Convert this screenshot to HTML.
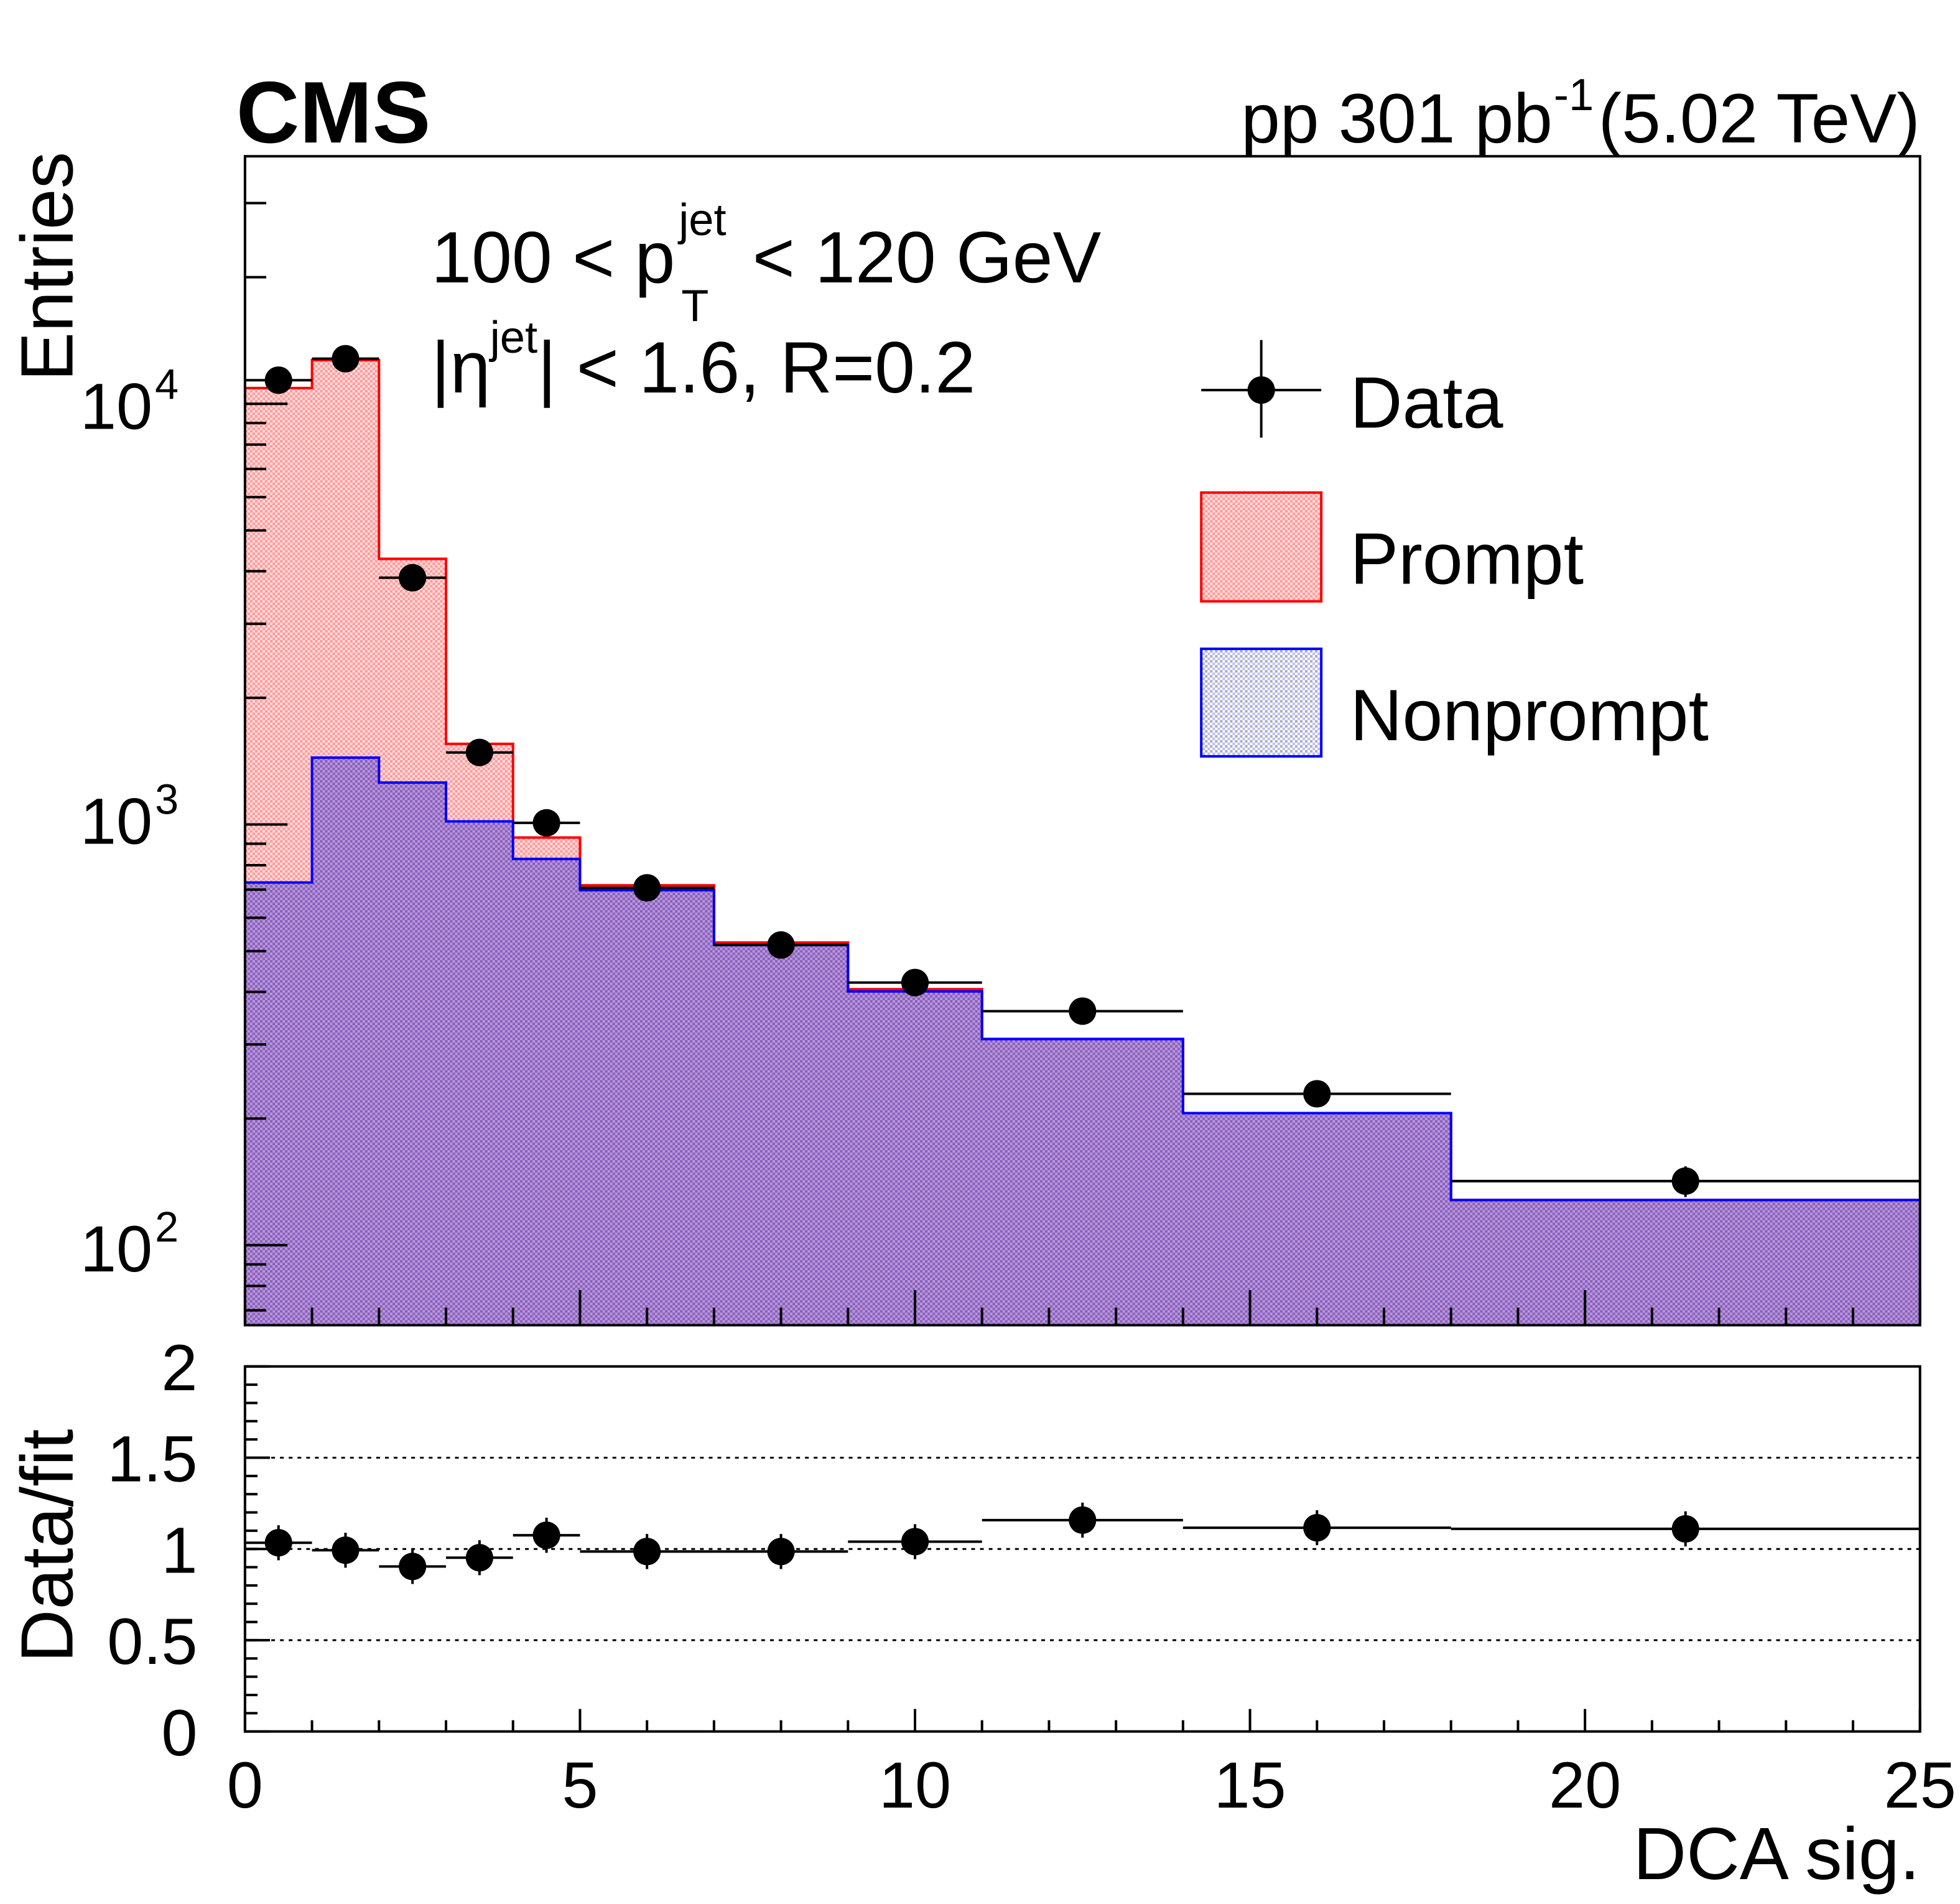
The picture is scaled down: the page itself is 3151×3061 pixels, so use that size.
<!DOCTYPE html>
<html><head><meta charset="utf-8"><style>html,body{margin:0;padding:0;background:#fff}svg{display:block}text{font-family:"Liberation Sans",sans-serif}</style></head>
<body>
<svg id="c" width="3151" height="3061" viewBox="0 0 1568 1523" preserveAspectRatio="none">
<defs>
<pattern id="pr" width="4" height="4" patternUnits="userSpaceOnUse"><rect width="4" height="4" fill="#fdd"/><rect width="2" height="2" fill="#f99"/><rect x="2" y="2" width="2" height="2" fill="#f99"/></pattern>
<pattern id="np" width="4" height="4" patternUnits="userSpaceOnUse"><rect width="4" height="4" fill="#b79bd6"/><rect width="2" height="2" fill="#8a5cc0"/><rect x="2" y="2" width="2" height="2" fill="#8a5cc0"/></pattern>
<pattern id="npl" width="4" height="4" patternUnits="userSpaceOnUse"><rect width="4" height="4" fill="#fff"/><rect width="2" height="2" fill="#aab"/><rect x="2" y="2" width="2" height="2" fill="#bbf"/></pattern>
</defs>
<g id="g"></g>
</svg>
<script>
const binEdges=[0,1,2,3,4,5,7,9,11,14,18,25];
const totalFit=[10900,12700,4280,1555,931,717,524,406,309,206,128];
const nonprompt=[728,1442,1258,1017,828,698,517,401,309,206,128];
const dataVals=[11380,12800,3860,1483,1009,707,517,421,360,229,142];
const ratioVals=[1.034,0.993,0.904,0.952,1.075,0.986,0.986,1.04,1.158,1.116,1.11];
const xTicks=[0,5,10,15,20,25];
const ratioTicks=[0,0.5,1,1.5,2];
const ratioTickLabels=["0","0.5","1","1.5","2"];

const X0=196,X1=1536,T=125,B=1060,RT=1093,RB=1385;
const xs=v=>X0+(v-0)*(X1-X0)/25;
const ys=v=>323-(Math.log10(v)-4)*336.5;
const yr=v=>RB-v*(RB-RT)/2;
const g=document.getElementById('g');
const NS='http://www.w3.org/2000/svg';
function el(tag,attrs,name,parent){const e=document.createElementNS(NS,tag);for(const k in attrs)e.setAttribute(k,attrs[k]);


(parent||g).appendChild(e);return e;}
function txt(x,y,s,size,anchor,name,extra){const t=el('text',Object.assign({x:x,y:y,'font-size':size,'text-anchor':anchor||'start'},extra||{}),name);t.textContent=s;return t;}
function step(vals){let d='';for(let i=0;i<vals.length;i++){const y=Math.min(B,ys(vals[i]));d+=(i==0?'M'+xs(binEdges[0])+','+y:'L'+xs(binEdges[i])+','+y)+'L'+xs(binEdges[i+1])+','+y;}return d;}
el('path',{d:step(totalFit)+'L'+X1+','+B+'L'+X0+','+B+'Z',fill:'url(#pr)'},'prompt-fill');
el('path',{d:step(nonprompt)+'L'+X1+','+B+'L'+X0+','+B+'Z',fill:'url(#np)'},'nonprompt-fill');
el('path',{d:step(totalFit),fill:'none',stroke:'#f00','stroke-width':2},'prompt-line');
el('path',{d:step(nonprompt),fill:'none',stroke:'#00f','stroke-width':2},'nonprompt-line');
for(let i=0;i<dataVals.length;i++){const cx=xs((binEdges[i]+binEdges[i+1])/2),cy=ys(dataVals[i]);
el('line',{x1:xs(binEdges[i]),x2:xs(binEdges[i+1]),y1:cy,y2:cy,stroke:'#000','stroke-width':2},'data-xerr');
const e=Math.sqrt(dataVals[i]);el('line',{x1:cx,x2:cx,y1:ys(dataVals[i]+e),y2:ys(dataVals[i]-e),stroke:'#000','stroke-width':2},'data-yerr');
el('circle',{cx:cx,cy:cy,r:11,fill:'#000'},'data-point');}
el('rect',{x:X0,y:T,width:X1-X0,height:B-T,fill:'none',stroke:'#000','stroke-width':2},'main-frame');
el('rect',{x:X0,y:RT,width:X1-X0,height:RB-RT,fill:'none',stroke:'#000','stroke-width':2},'ratio-frame');
for(let v=0;v<=25;v++){const big=v%5==0;const x=xs(v);
el('line',{x1:x,x2:x,y1:B,y2:B-(big?28:14),stroke:'#000','stroke-width':2},'x-tick');
el('line',{x1:x,x2:x,y1:RB,y2:RB-(big?18:9),stroke:'#000','stroke-width':2},'ratio-x-tick');}
xTicks.forEach(v=>txt(xs(v),1446,String(v),52,'middle','x-tick-label'));
txt(1536,1503,'DCA sig.',59,'end','x-axis-title');
for(let d=1;d<=4;d++)for(let m=1;m<10;m++){const v=m*Math.pow(10,d);const y=ys(v);if(y<T||y>B)continue;
el('line',{x1:X0,x2:X0+(m==1?34:17),y1:y,y2:y,stroke:'#000','stroke-width':2},'y-tick');}
[[2,997],[3,655],[4,323]].forEach(a=>{txt(122,a[1]+20,'10',52,'end','y-tick-label');txt(124,a[1]-4,String(a[0]),34,'start','y-tick-exponent');});
txt(58,305,'Entries',59,'start','y-axis-title',{transform:'rotate(-90 58 305)'});
ratioTicks.forEach((v,i)=>{el('line',{x1:X0,x2:X0+20,y1:yr(v),y2:yr(v),stroke:'#000','stroke-width':2},'ratio-y-tick');txt(158,yr(v)+19,ratioTickLabels[i],52,'end','ratio-tick-label');});
for(let v=0.1;v<2;v+=0.1){el('line',{x1:X0,x2:X0+10,y1:yr(v),y2:yr(v),stroke:'#000','stroke-width':2},'ratio-minor-tick');}
[0.5,1,1.5].forEach(v=>el('line',{x1:X0,x2:X1,y1:yr(v),y2:yr(v),stroke:'#000','stroke-width':1.5,'stroke-dasharray':'3,4'},'ratio-ref-line'));
for(let i=0;i<ratioVals.length;i++){const cx=xs((binEdges[i]+binEdges[i+1])/2),cy=yr(ratioVals[i]);
el('line',{x1:xs(binEdges[i]),x2:xs(binEdges[i+1]),y1:cy,y2:cy,stroke:'#000','stroke-width':2},'ratio-xerr');
el('line',{x1:cx,x2:cx,y1:cy-14,y2:cy+14,stroke:'#000','stroke-width':2},'ratio-yerr');
el('circle',{cx:cx,cy:cy,r:11,fill:'#000'},'ratio-point');}
txt(58,1330,'Data/fit',59,'start','ratio-axis-title',{transform:'rotate(-90 58 1330)'});
txt(189,114,'CMS',70,'start','cms-label',{'font-weight':'bold'});
txt(1242,114,'pp 301 pb',56,'end','lumi-label');
txt(1243,88,'-1',36,'start','lumi-exponent');
txt(1536,114,'(5.02 TeV)',56,'end','lumi-energy');
txt(345,226,'100 < p',58,'start','pt-range-label');
txt(543,188,'jet',36,'start','pt-superscript');
txt(545,257,'T',36,'start','pt-subscript');
txt(602,226,'< 120 GeV',58,'start','pt-range-upper');
txt(345,314,'|η',58,'start','eta-label');
txt(392,282,'jet',36,'start','eta-superscript');
txt(430,314,'| < 1.6, R=0.2',58,'start','eta-range');
el('line',{x1:961,x2:1057,y1:312,y2:312,stroke:'#000','stroke-width':2},'legend-data-hline');
el('line',{x1:1009,x2:1009,y1:272,y2:350,stroke:'#000','stroke-width':2},'legend-data-vline');
el('circle',{cx:1009,cy:312,r:11,fill:'#000'},'legend-data-marker');
txt(1080,342,'Data',58,'start','legend-data-label');
el('rect',{x:961,y:394,width:96,height:87,fill:'url(#pr)',stroke:'#f00','stroke-width':2},'legend-prompt-box');
txt(1080,467,'Prompt',58,'start','legend-prompt-label');
el('rect',{x:961,y:519,width:96,height:86,fill:'url(#npl)',stroke:'#00f','stroke-width':2},'legend-nonprompt-box');
txt(1080,592,'Nonprompt',58,'start','legend-nonprompt-label');
</script>
</body></html>
